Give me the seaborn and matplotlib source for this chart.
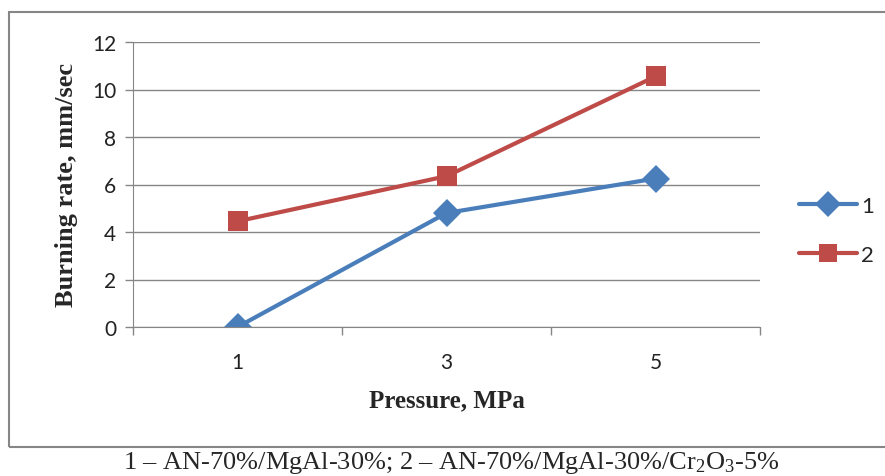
import matplotlib
matplotlib.use('Agg')
import pandas as pd
import matplotlib.pyplot as plt
import seaborn as sns
from matplotlib.patches import Rectangle

# data
pressure = ['1', '3', '5']
rate_1 = [0.0, 4.8, 6.25]
rate_2 = [4.45, 6.35, 10.55]
series_names = ['1', '2']

df = pd.DataFrame({
    'Pressure': pressure * 2,
    'Rate': rate_1 + rate_2,
    'Series': [series_names[0]] * 3 + [series_names[1]] * 3,
})

sns.set_style('white')
plt.rcParams['font.family'] = ['Lato', 'DejaVu Sans']
plt.rcParams['mathtext.fontset'] = 'custom'
plt.rcParams['mathtext.rm'] = 'Liberation Serif'
plt.rcParams['mathtext.it'] = 'Liberation Serif:italic'

fig = plt.figure(figsize=(8.85, 4.77), dpi=100)
ax = fig.add_axes([133/885, 1 - 328/477, (760-133)/885, (328-43)/477])

colors = ['#4A7EBB', '#BE4B48']
sns.lineplot(data=df, x='Pressure', y='Rate', hue='Series', style='Series',
             markers=['D', 's'], dashes=False, palette=colors,
             markersize=14, linewidth=3, markeredgewidth=0, ax=ax)

ax.set_ylim(0, 12)
ax.set_yticks(range(0, 13, 2))
ax.set_xlim(-0.5, 2.5)
ax.set_xticks([0, 1, 2])
ax.set_xticks([-0.5, 0.5, 1.5, 2.5], minor=True)
ax.yaxis.grid(True, color='#868686', linewidth=1)
ax.set_axisbelow(True)
for s in ['top', 'right']:
    ax.spines[s].set_visible(False)
ax.spines['left'].set_color('#868686')
ax.spines['bottom'].set_color('#868686')
ax.tick_params(axis='y', which='major', length=6, color='#868686', width=1,
               labelsize=15, pad=6, left=True)
ax.tick_params(axis='x', which='major', length=0, labelsize=15, pad=18)
ax.tick_params(axis='x', which='minor', length=6, color='#868686', width=1,
               bottom=True)
for lab in ax.get_xticklabels() + ax.get_yticklabels():
    lab.set_color('#222222')

ax.set_xlabel('Pressure, MPa', fontfamily='Liberation Serif', fontweight='bold',
              fontsize=18, labelpad=12)
ax.set_ylabel('Burning rate, mm/sec', fontfamily='Liberation Serif',
              fontweight='bold', fontsize=19, labelpad=10)

leg = ax.legend(loc='center left', bbox_to_anchor=(1.03, 0.34), frameon=False,
                fontsize=16, handlelength=2.6, handletextpad=0.2,
                labelspacing=1.3)
for h in leg.legend_handles:
    h.set_linewidth(3)
    h.set_markersize(13)

# outer chart frame
fig.patches.append(Rectangle((9/885, 1 - 448/477), 1, (448-13)/477,
                             transform=fig.transFigure, fill=False,
                             edgecolor='#868686', linewidth=1.5))

fig.text(451/885, 1 - 463/477,
         '1 – AN-70%/MgAl-30%; 2 – AN-70%/MgAl-30%/Cr$_2$O$_3$-5%',
         ha='center', va='center', fontsize=19, fontfamily='Liberation Serif')

fig.savefig('out.png', dpi=100)
